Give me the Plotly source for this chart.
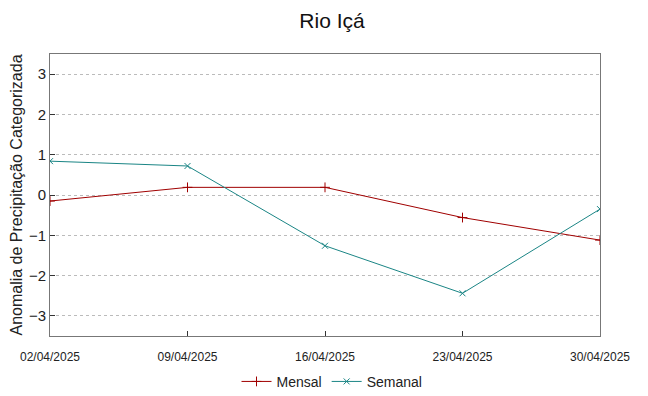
import plotly.graph_objects as go

dates = ["02/04/2025", "09/04/2025", "16/04/2025", "23/04/2025", "30/04/2025"]
mensal = [-0.15, 0.19, 0.19, -0.56, -1.12]
semanal = [0.84, 0.72, -1.26, -2.44, -0.35]

fig = go.Figure()
fig.add_trace(go.Scatter(x=dates, y=mensal, name="Mensal", mode="lines+markers",
                         line=dict(color="#a00000", width=1),
                         marker=dict(symbol="cross-thin", size=7, line=dict(color="#a00000", width=1))))
fig.add_trace(go.Scatter(x=dates, y=semanal, name="Semanal", mode="lines+markers",
                         line=dict(color="#1a8585", width=1),
                         marker=dict(symbol="x-thin", size=6, line=dict(color="#1a8585", width=1))))

fig.update_layout(
    width=648, height=396,
    margin=dict(l=42, r=56, t=46, b=68),
    paper_bgcolor="white", plot_bgcolor="white",
    font=dict(family="Liberation Sans", color="#222"),
    title=dict(text="Rio Içá", x=0.5, xanchor="center", y=0.968, yanchor="middle",
               font=dict(size=21, color="#111")),
    legend=dict(orientation="h", x=0.5, xanchor="center", xref="container",
                y=0.056, yanchor="middle", yref="container",
                font=dict(size=14), bgcolor="rgba(0,0,0,0)"),
    showlegend=True,
)
fig.update_xaxes(type="category", range=[0, 4], showgrid=False, zeroline=False, automargin=False,
                 showline=True, linecolor="#777", linewidth=1, mirror=True,
                 ticks="inside", ticklen=5, tickcolor="#333", ticklabelstandoff=10,
                 tickfont=dict(size=12, color="#222"))
fig.update_yaxes(range=[-3.5, 3.5], tickvals=[-3, -2, -1, 0, 1, 2, 3], automargin=False,
                 showgrid=True, gridcolor="#bbb", griddash="dot", gridwidth=1,
                 zeroline=False, showline=True, linecolor="#777", linewidth=1, mirror=True,
                 ticks="inside", ticklen=5, tickcolor="#333",
                 tickfont=dict(size=15, color="#222"),
                 title=dict(text="Anomalia de Precipitação Categorizada", font=dict(size=16, color="#222"),
                            standoff=4))

fig.write_html("out.html")
